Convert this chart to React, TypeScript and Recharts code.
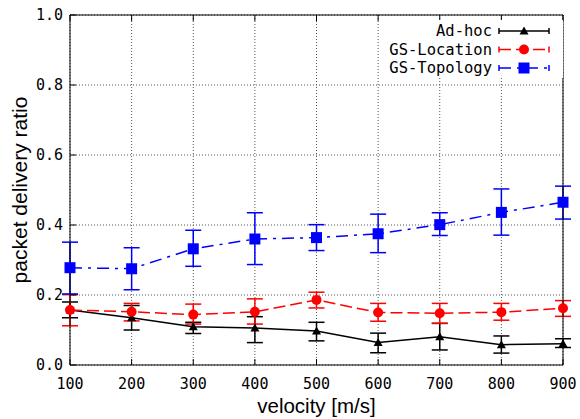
import { LineChart, Line, XAxis, YAxis, CartesianGrid, ErrorBar, Legend } from 'recharts'

const velocity = [100, 200, 300, 400, 500, 600, 700, 800, 900]
const yTicks = [0, 0.2, 0.4, 0.6, 0.8, 1.0]

// Ad-hoc
const adhoc = [0.157, 0.135, 0.109, 0.106, 0.097, 0.064, 0.081, 0.058, 0.061]
const adhocHi = [0.18, 0.17, 0.122, 0.138, 0.122, 0.091, 0.119, 0.083, 0.075]
const adhocLo = [0.135, 0.1, 0.09, 0.064, 0.069, 0.035, 0.043, 0.034, 0.05]

// GS-Location
const location = [0.157, 0.152, 0.144, 0.152, 0.186, 0.15, 0.148, 0.151, 0.162]
const locationHi = [0.201, 0.176, 0.174, 0.189, 0.208, 0.176, 0.176, 0.176, 0.184]
const locationLo = [0.112, 0.126, 0.117, 0.117, 0.163, 0.125, 0.119, 0.128, 0.139]

// GS-Topology
const topology = [0.278, 0.275, 0.332, 0.36, 0.364, 0.375, 0.401, 0.436, 0.465]
const topologyHi = [0.351, 0.335, 0.385, 0.435, 0.401, 0.431, 0.435, 0.503, 0.511]
const topologyLo = [0.203, 0.215, 0.282, 0.287, 0.327, 0.321, 0.37, 0.371, 0.417]

const data = velocity.map((v, i) => ({
  v,
  adhoc: adhoc[i],
  adhocErr: [adhoc[i] - adhocLo[i], adhocHi[i] - adhoc[i]],
  location: location[i],
  locationErr: [location[i] - locationLo[i], locationHi[i] - location[i]],
  topology: topology[i],
  topologyErr: [topology[i] - topologyLo[i], topologyHi[i] - topology[i]],
}))

const MONO = '"DejaVu Sans Mono", monospace'
const SANS = '"Liberation Sans", Arial, sans-serif'

type Shape = 'triangle' | 'circle' | 'square'

function Marker({ shape, cx, cy, color }: { shape: Shape; cx: number; cy: number; color: string }) {
  if (shape === 'triangle') {
    return <path d={`M${cx},${cy - 4.5}L${cx - 4.5},${cy + 3.5}L${cx + 4.5},${cy + 3.5}Z`} fill={color} />
  }
  if (shape === 'circle') return <circle cx={cx} cy={cy} r={5} fill={color} />
  return <rect x={cx - 5.5} y={cy - 5.5} width={11} height={11} fill={color} />
}

const dotFor = (shape: Shape, color: string) => (p: any) =>
  <Marker key={`${shape}-${p.index}`} shape={shape} cx={p.cx} cy={p.cy} color={color} />

const series = [
  { key: 'adhoc', name: 'Ad-hoc', color: '#000000', shape: 'triangle' as Shape, dash: undefined },
  { key: 'location', name: 'GS-Location', color: '#ff0000', shape: 'circle' as Shape, dash: '12 5' },
  { key: 'topology', name: 'GS-Topology', color: '#0000ff', shape: 'square' as Shape, dash: '12 6 3 6' },
]

function renderLegend() {
  return (
    <svg width={183} height={58} style={{ display: 'block', background: '#fff' }}>
      {series.map((s, i) => {
        const y = 11 + i * 18.5
        return (
          <g key={s.key}>
            <text x={112} y={y + 5} textAnchor="end" fontFamily={MONO} fontSize={15.5} fill="#000">
              {s.name}
            </text>
            <line x1={119} x2={169} y1={y} y2={y} stroke={s.color} strokeWidth={1.5} strokeDasharray={s.dash} />
            <line x1={119} x2={119} y1={y - 3} y2={y + 3} stroke={s.color} strokeWidth={1.5} />
            <line x1={169} x2={169} y1={y - 3} y2={y + 3} stroke={s.color} strokeWidth={1.5} />
            <Marker shape={s.shape} cx={144} cy={y} color={s.color} />
          </g>
        )
      })}
    </svg>
  )
}

const BottomTick = ({ x, y, payload }: any) => (
  <g>
    <line x1={x} x2={x} y1={y} y2={y - 6} stroke="#000" />
    <text x={x} y={y + 24} textAnchor="middle" fontFamily={MONO} fontSize={15} fill="#000">
      {payload.value}
    </text>
  </g>
)
const TopTick = ({ x, y }: any) => <line x1={x} x2={x} y1={y} y2={y + 6} stroke="#000" />
const LeftTick = ({ x, y, payload }: any) => (
  <g>
    <line x1={x} x2={x + 6} y1={y} y2={y} stroke="#000" />
    <text x={x - 7} y={y + 5} textAnchor="end" fontFamily={MONO} fontSize={15} fill="#000">
      {Number(payload.value).toFixed(1)}
    </text>
  </g>
)
const RightTick = ({ x, y }: any) => <line x1={x} x2={x - 6} y1={y} y2={y} stroke="#000" />

const xLabel = (props: any) => {
  const { x, y, width } = props.viewBox
  return (
    <text x={x + width / 2} y={y + 48} textAnchor="middle" fontFamily={SANS} fontSize={20.5} fill="#000">
      velocity [m/s]
    </text>
  )
}
const yLabel = (props: any) => {
  const { x, y, height } = props.viewBox
  const cx = x - 42.5
  const cy = y + height / 2
  return (
    <text x={cx} y={cy} transform={`rotate(-90 ${cx} ${cy})`} textAnchor="middle"
      fontFamily={SANS} fontSize={21} fill="#000">
      packet delivery ratio
    </text>
  )
}

export default function App() {
  return (
    <div style={{ position: 'absolute', left: 0, top: 0, width: 580, height: 419, background: '#fff' }}>
      <LineChart width={580} height={419} data={data} margin={{ top: 14, right: 16, bottom: 53, left: 69 }}>
        <CartesianGrid stroke="#555" strokeDasharray="1 2" />
        <XAxis dataKey="v" type="number" domain={[100, 900]} ticks={velocity} height={1}
          tickSize={0} tickMargin={0} tick={<BottomTick />} axisLine={{ stroke: '#000' }} label={xLabel} />
        <XAxis xAxisId="top" orientation="top" dataKey="v" type="number" domain={[100, 900]} ticks={velocity}
          height={1} tickSize={0} tickMargin={0} tick={<TopTick />} axisLine={{ stroke: '#000' }} />
        <YAxis type="number" domain={[0, 1]} ticks={yTicks} width={1} tickSize={0} tickMargin={0}
          tick={<LeftTick />} axisLine={{ stroke: '#000' }} label={yLabel} />
        <YAxis yAxisId="right" orientation="right" type="number" domain={[0, 1]} ticks={yTicks} width={1}
          tickSize={0} tickMargin={0} tick={<RightTick />} axisLine={{ stroke: '#000' }} />
        <Legend layout="vertical" align="center" verticalAlign="middle" content={renderLegend}
          wrapperStyle={{ top: 20, left: 380, width: 183, height: 58 }} />
        {series.map((s) => (
          <Line key={s.key} dataKey={s.key} name={s.name} stroke={s.color} strokeWidth={1.5}
            strokeDasharray={s.dash} dot={dotFor(s.shape, s.color)} activeDot={false}
            isAnimationActive={false}>
            <ErrorBar dataKey={`${s.key}Err`} width={8} stroke={s.color} strokeWidth={1.5} direction="y" />
          </Line>
        ))}
      </LineChart>
    </div>
  )
}
